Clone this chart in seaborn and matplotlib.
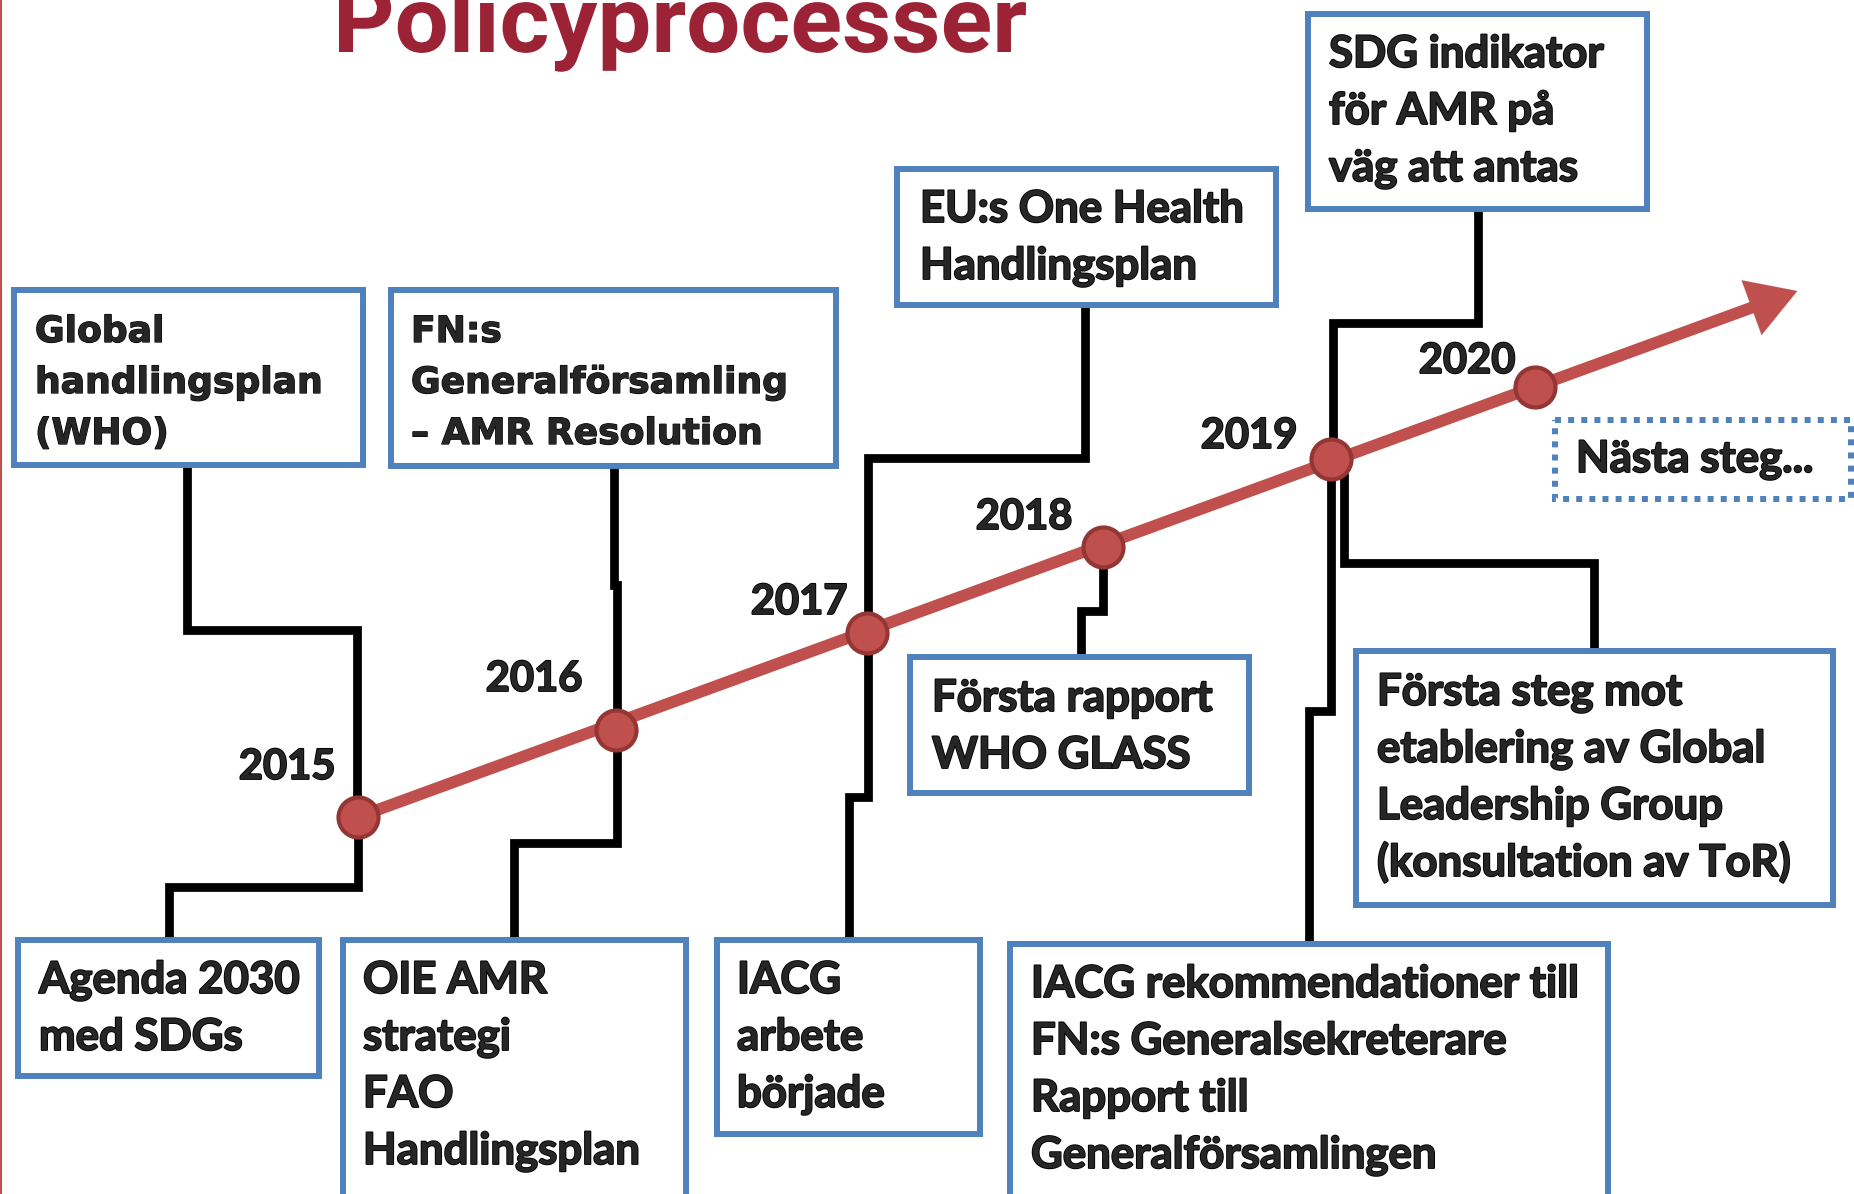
import matplotlib
matplotlib.use("Agg")
import matplotlib.patheffects as pe
import matplotlib.pyplot as plt
import pandas as pd
import seaborn as sns
from matplotlib.font_manager import FontProperties
from matplotlib.patches import PathPatch, Rectangle
from matplotlib.textpath import TextPath
from matplotlib.transforms import Affine2D

W, H = 1854, 1194
DPI = 100
RED = "#C0504D"
DARKRED = "#943634"
BLUE = "#4F81BD"
TITLE_RED = "#9B2335"

# timeline events (canvas pixels, y downwards)
years = ["2015", "2016", "2017", "2018", "2019", "2020"]
dot_x = [358, 616, 867, 1103, 1331, 1535]
dot_y = [817, 730, 633, 547, 459, 387]
year_x = [287, 534, 799, 1024, 1249, 1467]
year_y = [767, 679, 602, 517, 436, 361]
arrow_tip = (1800, 290)

# boxes: left, top, right, bottom
box_left = [14, 391, 897, 1308, 18, 343, 717, 910, 1356, 1010]
box_top = [290, 290, 169, 14, 940, 940, 940, 657, 651, 944]
box_right = [363, 836, 1276, 1647, 319, 686, 980, 1249, 1833, 1608]
box_bottom = [465, 466, 305, 209, 1076, 1210, 1134, 793, 905, 1210]
box_size = ["small", "small", "normal", "normal", "normal", "normal", "normal", "normal", "normal", "normal"]
box_texts = [
    ["Global", "handlingsplan", "(WHO)"],
    ["FN:s", "Generalförsamling", "– AMR Resolution"],
    ["EU:s One Health", "Handlingsplan"],
    ["SDG indikator", "för AMR på", "väg att antas"],
    ["Agenda 2030", "med SDGs"],
    ["OIE AMR", "strategi", "FAO", "Handlingsplan"],
    ["IACG", "arbete", "började"],
    ["Första rapport", "WHO GLASS"],
    ["Första steg mot", "etablering av Global", "Leadership Group", "(konsultation av ToR)"],
    ["IACG rekommendationer till", "FN:s Generalsekreterare", "Rapport till", "Generalförsamlingen"],
]
text_x = [35, 411, 920, 1329, 39, 363, 737, 932, 1377, 1031]
text_y = [327, 327, 209, 54, 980, 980, 980, 698, 692, 984]

next_box = (1555, 420, 1851, 499)
next_text = "Nästa steg..."
next_pos = (1576, 459)

# elbow connectors
connectors = [
    [(187, 465), (187, 630), (357, 630), (357, 817)],
    [(358, 817), (358, 887), (169, 887), (169, 940)],
    [(614, 466), (614, 585), (617, 585), (617, 730)],
    [(617, 730), (617, 843), (514, 843), (514, 940)],
    [(1085, 305), (1085, 458), (868, 458), (868, 633)],
    [(868, 633), (868, 797), (849, 797), (849, 940)],
    [(1103, 547), (1103, 611), (1081, 611), (1081, 657)],
    [(1478, 209), (1478, 323), (1333, 323), (1333, 459)],
    [(1331, 459), (1331, 711), (1309, 711), (1309, 944)],
    [(1344, 473), (1344, 563), (1594, 563), (1594, 651)],
]

# family, size, line step, baseline offset, stroke width
SIZES = {"small": ("DejaVu Sans", 26, 51, 15, 0.9),
         "normal": ("Lato", 31.5, 57, 13, 1.3)}


def bolder(w):
    return [pe.withStroke(linewidth=w, foreground="black")]


def main():
    sns.set_style("white")
    plt.rcParams["font.family"] = ["Lato", "DejaVu Sans"]
    fig = plt.figure(figsize=(W / DPI, H / DPI), dpi=DPI)
    ax = fig.add_axes([0, 0, 1, 1])

    # thin red rule on the left edge
    ax.plot([1, 1], [0, H], color=RED, lw=1.5)

    # title, squeezed to the reference width
    prop = FontProperties(family="Roboto", weight="bold")
    tp = TextPath((0, 0), "Policyprocesser", size=1, prop=prop)
    xh = TextPath((0, 0), "x", size=1, prop=prop).get_extents().height
    ext = tp.get_extents()
    tr = Affine2D().translate(-ext.x0, 0).scale(687 / ext.width, -49 / xh).translate(339, 52)
    ax.add_patch(PathPatch(tr.transform_path(tp), fc=TITLE_RED, ec="none"))

    # connectors
    for pts in connectors:
        xs, ys = zip(*pts)
        ax.plot(xs, ys, color="black", lw=6.3, solid_joinstyle="miter",
                solid_capstyle="butt", zorder=2)

    # boxes
    for i, lines in enumerate(box_texts):
        l, t, r, b = box_left[i], box_top[i], box_right[i], box_bottom[i]
        ax.add_patch(Rectangle((l, t), r - l, b - t, fc="white", ec=BLUE,
                               lw=4.3, joinstyle="miter", zorder=3))
        fam, fs, step, off, sw = SIZES[box_size[i]]
        for j, line in enumerate(lines):
            ax.text(text_x[i], text_y[i] + off + j * step, line, fontsize=fs,
                    family=fam, fontweight="bold", va="baseline", ha="left",
                    zorder=4, path_effects=bolder(sw))

    l, t, r, b = next_box
    ax.add_patch(Rectangle((l, t), r - l, b - t, fc="white", ec=BLUE, lw=4.3,
                           ls=(0, (1, 1.2)), zorder=3))
    ax.text(next_pos[0], next_pos[1] + 13, next_text, fontsize=31.5,
            fontweight="bold", va="baseline", ha="left", zorder=4,
            path_effects=bolder(1.3))

    # timeline
    line_df = pd.DataFrame({"x": [dot_x[0], arrow_tip[0] - 40],
                            "y": [dot_y[0], arrow_tip[1] + 14.6]})
    sns.lineplot(data=line_df, x="x", y="y", color=RED, lw=8.5, sort=False,
                 estimator=None, ax=ax, zorder=5, solid_capstyle="butt")
    ax.annotate("", xy=arrow_tip, xytext=(arrow_tip[0] - 60, arrow_tip[1] + 21.9),
                arrowprops=dict(arrowstyle="-|>,head_length=1.25,head_width=0.75",
                                color=RED, lw=0.1, mutation_scale=28),
                zorder=5)
    dots = pd.DataFrame({"x": dot_x, "y": dot_y, "year": years})
    sns.scatterplot(data=dots, x="x", y="y", s=830, color=RED,
                    edgecolor=DARKRED, linewidth=3, ax=ax, zorder=6)
    for yr, x, y in zip(years, year_x, year_y):
        ax.text(x, y, yr, fontsize=30, fontweight="bold", ha="center",
                va="center", zorder=7, path_effects=bolder(1.3))

    ax.set_xlim(0, W)
    ax.set_ylim(H, 0)
    ax.axis("off")
    fig.savefig("out.png", dpi=DPI)


main()
